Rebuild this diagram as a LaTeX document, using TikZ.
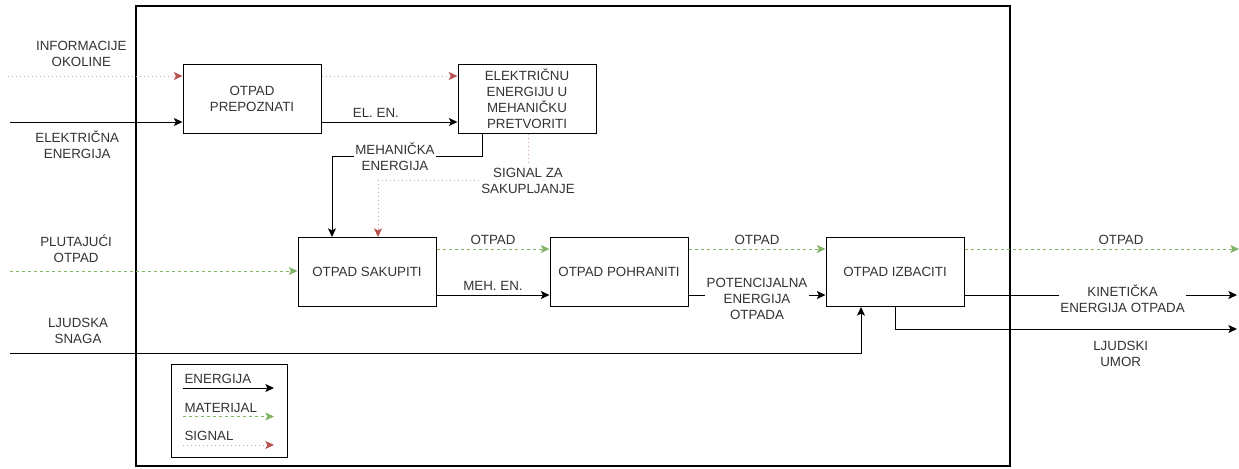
\documentclass[tikz,border=0pt]{standalone}
\usepackage{fontspec}
\setmainfont{Liberation Sans}
\usetikzlibrary{arrows.meta,calc}

\definecolor{matgreen}{HTML}{82B366}
\definecolor{sigred}{HTML}{B85450}
\definecolor{tekst}{HTML}{333333}

\tikzset{
  funkcija/.style={draw, line width=0.75pt, minimum width=103.5pt, minimum height=51.75pt,
    align=center, inner sep=1pt, text=tekst},
  vrh/.style={-{Stealth[length=6.5pt,width=6pt,inset=1.5pt,#1]}},
  en/.style={draw=black, line width=0.75pt, vrh={color=black}},
  mat/.style={draw=matgreen, line width=0.75pt, dash pattern=on 2.25pt off 2.25pt, vrh={color=matgreen}},
  sig/.style={draw=sigred!55, line width=0.75pt, dash pattern=on 0.75pt off 2.25pt, vrh={color=sigred}},
  oznaka/.style={text=tekst, align=center, fill=white, inner sep=1pt}
}

\begin{document}
\begin{tikzpicture}[x=0.75pt, y=-0.75pt, font=\fontsize{10}{12}\selectfont]
\useasboundingbox (0,0) rectangle (1239,468);

% granica sustava
\draw[line width=1.5pt] (136,6) rectangle (1010,466);

% funkcije
\node[funkcija] (prep) at (252,98.5) {OTPAD\\PREPOZNATI};
\node[funkcija] (pretv) at (527,98.5) {ELEKTRIČNU\\ENERGIJU U\\MEHANIČKU\\PRETVORITI};
\node[funkcija] (sakup) at (367,272) {OTPAD SAKUPITI};
\node[funkcija] (pohr) at (619,272) {OTPAD POHRANITI};
\node[funkcija] (izbac) at (895,272) {OTPAD IZBACITI};

% ulazi i izlazi
\coordinate (info) at (8,76);
\coordinate (elen) at (10,122);
\coordinate (plut) at (10,271);
\coordinate (snaga) at (10,353);
\coordinate (izlaz) at (1239,249);
\coordinate (kin) at (1237,295);
\coordinate (umor) at (1237,329);

\draw[sig] (info) -- node[oznaka, above=5.5pt, pos=0.42]{INFORMACIJE\\OKOLINE} (info -| prep.west);
\draw[en] (elen) -- node[oznaka, below=5pt, pos=0.39]{ELEKTRIČNA\\ENERGIJA} (elen -| prep.west);
\draw[sig] (prep.east |- info) -- (pretv.west |- info);
\draw[en] (prep.east |- elen) -- node[oznaka, above=2pt, pos=0.4]{EL. EN.} (pretv.west |- elen);

\draw[en] ($(pretv.south)+(-45,0)$) -- ++(0,23)
  -| node[oznaka, pos=0.29]{MEHANIČKA\\ENERGIJA} ($(sakup.north)+(-35,0)$);
\draw[sig] ($(pretv.south)+(1,0)$) -- ++(0,47) node[oznaka]{SIGNAL ZA\\SAKUPLJANJE}
  -| ($(sakup.north)+(11,0)$);

\draw[mat] (plut) -- node[oznaka, above=5pt, pos=0.23]{PLUTAJUĆI\\OTPAD} (plut -| sakup.west);
\draw[mat] (sakup.east |- izlaz) -- node[oznaka, above=2pt]{OTPAD} (pohr.west |- izlaz);
\draw[en] (sakup.east |- kin) -- node[oznaka, above=2pt]{MEH. EN.} (pohr.west |- kin);
\draw[mat] (pohr.east |- izlaz) -- node[oznaka, above=2pt]{OTPAD} (izbac.west |- izlaz);
\draw[en] (pohr.east |- kin) -- node[oznaka, yshift=-3pt]{POTENCIJALNA\\ENERGIJA\\OTPADA} (izbac.west |- kin);

\draw[mat] (izbac.east |- izlaz) -- node[oznaka, above=2pt, pos=0.57]{OTPAD} (izlaz);
\draw[en] (izbac.east |- kin) -- node[oznaka, yshift=-3pt, pos=0.58]{KINETIČKA\\ENERGIJA OTPADA} (kin);
\draw[en] (izbac.south) |- node[oznaka, below=8pt, pos=0.83]{LJUDSKI\\UMOR} (umor);
\draw[en] (snaga) -| node[oznaka, above=5.5pt, pos=0.04]{LJUDSKA\\SNAGA} ($(izbac.south)+(-34,0)$);

% legenda
\node[draw, line width=0.75pt, minimum width=87pt, minimum height=69.75pt] (legenda) at (229,410.5) {};
\foreach \ime/\stil [count=\i] in {ENERGIJA/en, MATERIJAL/mat, SIGNAL/sig} {
  \coordinate (leg\i) at (183,{388+28.5*(\i-1)});
  \draw[\stil] (leg\i) -- ++(91,0);
  \node[text=tekst, anchor=south west, inner sep=1pt, yshift=2pt] at (leg\i) {\ime};
}
\end{tikzpicture}
\end{document}
